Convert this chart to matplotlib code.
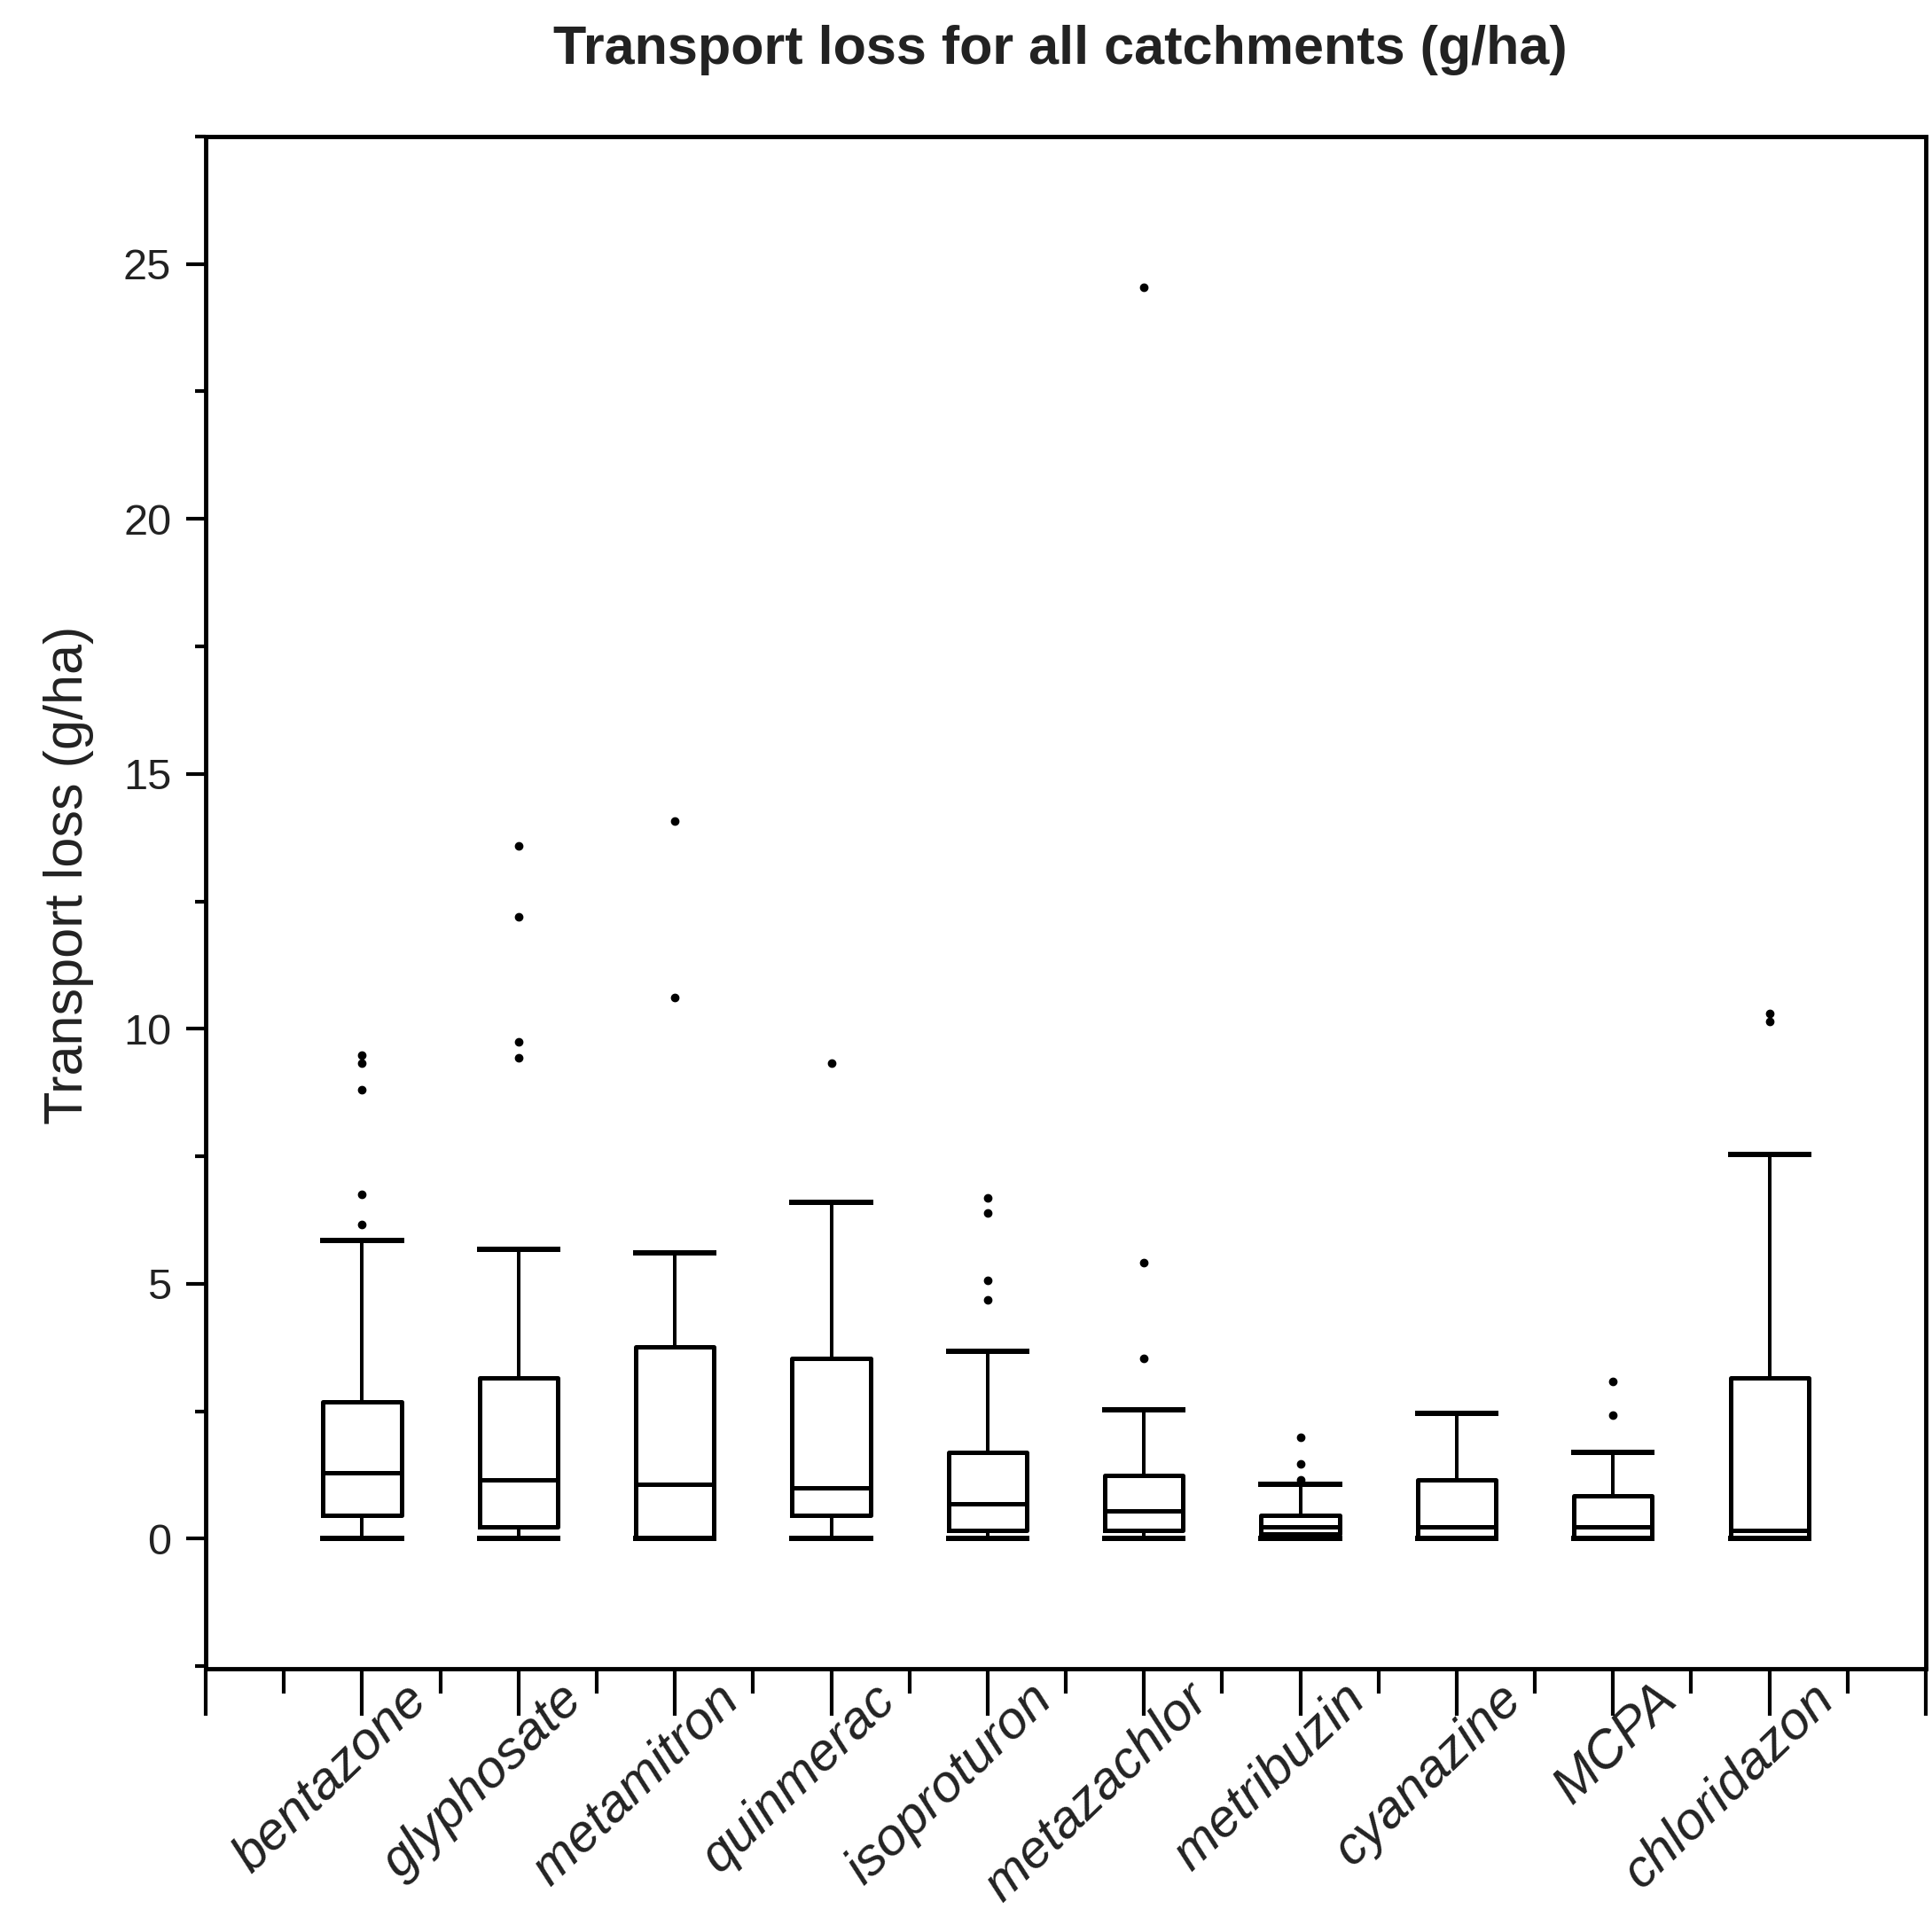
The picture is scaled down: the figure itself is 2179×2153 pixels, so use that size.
import matplotlib
matplotlib.use("Agg")
import matplotlib.pyplot as plt
import matplotlib.transforms as mtransforms
from matplotlib.ticker import MultipleLocator

# values (g/ha)
names = ["bentazone", "glyphosate", "metamitron", "quinmerac", "isoproturon",
         "metazachlor", "metribuzin", "cyanazine", "MCPA", "chloridazon"]
whislo = [0, 0, 0, 0, 0, 0, 0, 0, 0, 0]
q1 = [0.46, 0.23, 0, 0.45, 0.16, 0.16, 0.09, 0, 0, 0]
med = [1.30, 1.16, 1.07, 1.00, 0.69, 0.54, 0.23, 0.23, 0.23, 0.16]
q3 = [2.69, 3.15, 3.76, 3.54, 1.69, 1.24, 0.46, 1.16, 0.84, 3.15]
whishi = [5.84, 5.68, 5.61, 6.60, 3.68, 2.53, 1.07, 2.46, 1.69, 7.53]
fliers = [
    [9.48, 9.33, 8.80, 6.75, 6.17],
    [13.59, 12.19, 9.74, 9.43],
    [14.07, 10.61],
    [9.33],
    [6.69, 6.39, 5.06, 4.68],
    [24.54, 5.42, 3.53],
    [1.99, 1.47, 1.16],
    [],
    [3.08, 2.43],
    [10.30, 10.15],
]

plt.rcParams['font.family'] = ['Liberation Sans', 'DejaVu Sans']

fig = plt.figure(figsize=(21.79, 21.53), dpi=100)
ax = fig.add_axes([0.1065, 0.1259, 0.8903, 0.8026])

stats = []
for i in range(len(names)):
    stats.append(dict(whislo=whislo[i], q1=q1[i], med=med[i], q3=q3[i],
                      whishi=whishi[i], fliers=fliers[i], label=names[i]))

lw = 3.6
ax.bxp(stats, positions=range(1, len(names) + 1), widths=0.5,
       showfliers=True,
       boxprops=dict(color='black', linewidth=lw),
       medianprops=dict(color='black', linewidth=lw),
       whiskerprops=dict(color='black', linewidth=lw * 0.8),
       capprops=dict(color='black', linewidth=lw * 1.2),
       capwidths=0.5,
       flierprops=dict(marker='o', markerfacecolor='black',
                       markeredgecolor='black', markersize=6))

ax.set_xlim(0, 11)
ax.set_ylim(-2.55, 27.5)

ax.xaxis.set_minor_locator(MultipleLocator(0.5))
ax.set_xticks(range(0, 12))
ax.set_xticklabels([""] + names + [""], rotation=44, ha='right', va='top',
                   rotation_mode='anchor', fontsize=43, style='italic',
                   color='#222222')
ax.tick_params(axis='x', which='major', length=38, width=3, pad=0)
ax.tick_params(axis='x', which='minor', length=20, width=3)
shift = mtransforms.ScaledTranslation(0.45, 0.46, fig.dpi_scale_trans)
for lab in ax.get_xticklabels():
    lab.set_transform(lab.get_transform() + shift)

ax.yaxis.set_major_locator(MultipleLocator(5))
ax.yaxis.set_minor_locator(MultipleLocator(2.5))
ax.tick_params(axis='y', which='major', length=16, width=3, labelsize=35,
               pad=12, labelcolor='#222222')
ax.tick_params(axis='y', which='minor', length=9, width=3)

for s in ax.spines.values():
    s.set_linewidth(3.5)

ax.set_ylabel("Transport loss (g/ha)", fontsize=44, color='#222222', labelpad=24)
ax.yaxis.label.set_y(0.518)
fig.suptitle("Transport loss for all catchments (g/ha)", fontsize=44,
             fontweight='bold', color='#222222', x=0.549, y=0.987)

plt.savefig('out.png', dpi=100)
